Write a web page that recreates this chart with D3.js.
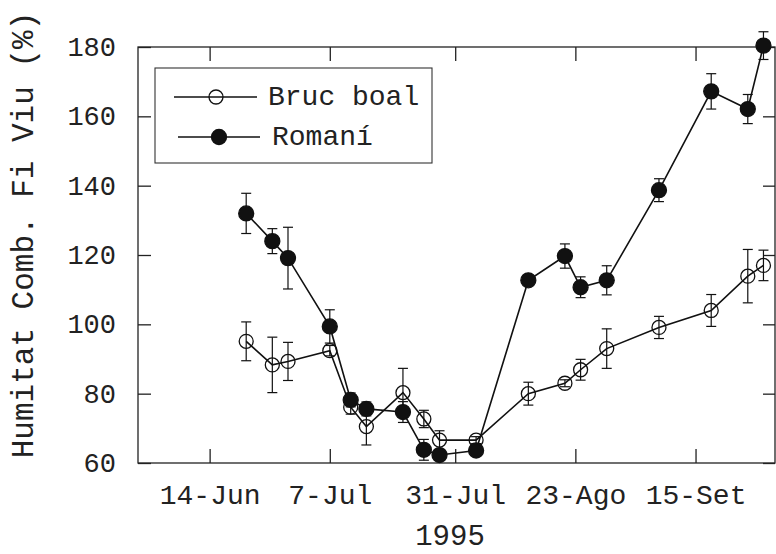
<!DOCTYPE html>
<meta charset="utf-8">
<style>

body {
  margin: 0;
  background: #fff;
}

svg {
  font-family: "Liberation Mono", "DejaVu Sans Mono", monospace;
}

.axis path {
  stroke: none;
}

.axis line {
  stroke: #222;
  stroke-width: 1.3px;
}

.axis text {
  fill: #222;
}

</style>
<svg id="chart" width="776" height="554"></svg>
<script src="https://cdn.jsdelivr.net/npm/d3@7"></script>
<script>

// Sampling dates (1995), shared by both series.
var dates = ["1995-06-21", "1995-06-26", "1995-06-29", "1995-07-07", "1995-07-11", "1995-07-14",
             "1995-07-21", "1995-07-25", "1995-07-28", "1995-08-04", "1995-08-14", "1995-08-21",
             "1995-08-24", "1995-08-29", "1995-09-08", "1995-09-18", "1995-09-25", "1995-09-28"];

// Bruc boal (open circles): mean and error.
var brucValues = [95.1, 88.3, 89.3, 92.4, 76.1, 70.5, 80.3, 72.7, 66.6, 66.6, 80, 83, 86.9, 93, 99.1, 104, 113.9, 117];
var brucErrors = [5.6, 8, 5.5, 1.5, 2, 5.3, 7, 2.5, 2.7, 1, 3.3, 1, 3, 5.7, 3.2, 4.6, 7.7, 4.4];

// Romaní (filled circles): mean and error.
var romaniValues = [132, 124, 119.1, 99.4, 78.2, 75.6, 74.7, 63.8, 62.3, 63.6, 112.7, 119.7, 110.7, 112.7, 138.7, 167.2, 162.1, 180.4];
var romaniErrors = [5.8, 3.6, 8.9, 4.8, 2, 2, 3, 3, 1, 1, 0, 3.5, 3, 4.2, 3.3, 5.1, 4.2, 4];

var xTickDates = ["1995-06-14", "1995-07-07", "1995-07-31", "1995-08-23", "1995-09-15"];
var xTickLabels = ["14-Jun", "7-Jul", "31-Jul", "23-Ago", "15-Set"];
var yTicks = [60, 80, 100, 120, 140, 160, 180];

var parse = d3.utcParse("%Y-%m-%d");

var svg = d3.select("svg"),
    plotLeft = 138, plotRight = 775, plotTop = 47, plotBottom = 463;

var x = d3.scaleUtc()
    .domain([new Date(Date.UTC(1995, 4, 31, 7)), new Date(Date.UTC(1995, 8, 30, 5))])
    .range([plotLeft, plotRight]);

var y = d3.scaleLinear()
    .domain([60, 180])
    .range([plotBottom, plotTop]);

function series(values, errors) {
  return dates.map(function(d, i) {
    return {date: parse(d), value: values[i], err: errors[i]};
  });
}

var bruc = series(brucValues, brucErrors),
    romani = series(romaniValues, romaniErrors);

// frame
svg.append("rect")
    .attr("x", plotLeft)
    .attr("y", plotTop)
    .attr("width", plotRight - plotLeft)
    .attr("height", plotBottom - plotTop)
    .attr("fill", "none")
    .attr("stroke", "#222")
    .attr("stroke-width", 1.3);

var tickDates = xTickDates.map(parse);

svg.append("g")
    .attr("class", "axis")
    .attr("transform", "translate(0," + plotBottom + ")")
    .call(d3.axisBottom(x)
        .tickValues(tickDates)
        .tickFormat(function(d, i) { return xTickLabels[i]; })
        .tickSizeInner(-14)
        .tickSizeOuter(0)
        .tickPadding(21))
    .attr("font-family", null)
    .attr("font-size", 28);

svg.append("g")
    .attr("class", "axis")
    .attr("transform", "translate(0," + plotTop + ")")
    .call(d3.axisTop(x)
        .tickValues(tickDates)
        .tickFormat("")
        .tickSizeInner(-14)
        .tickSizeOuter(0));

svg.append("g")
    .attr("class", "axis")
    .attr("transform", "translate(" + plotLeft + ",0)")
    .call(d3.axisLeft(y)
        .tickValues(yTicks)
        .tickSizeInner(-13)
        .tickSizeOuter(0)
        .tickPadding(22))
    .attr("font-family", null)
    .attr("font-size", 27);

svg.append("g")
    .attr("class", "axis")
    .attr("transform", "translate(" + plotRight + ",0)")
    .call(d3.axisRight(y)
        .tickValues(yTicks)
        .tickFormat("")
        .tickSizeInner(-12)
        .tickSizeOuter(0));

// axis titles
svg.append("text")
    .attr("x", 450)
    .attr("y", 545)
    .attr("text-anchor", "middle")
    .style("font-size", "29px")
    .attr("fill", "#222")
    .text("1995");

svg.append("text")
    .attr("transform", "translate(33,235) rotate(-90)")
    .attr("text-anchor", "middle")
    .style("font-size", "31px")
    .attr("fill", "#222")
    .text("Humitat Comb. Fi Viu (%)");

var line = d3.line()
    .x(function(d) { return x(d.date); })
    .y(function(d) { return y(d.value); });

function drawSeries(data, filled) {
  var g = svg.append("g");

  g.append("path")
      .datum(data)
      .attr("d", line)
      .attr("fill", "none")
      .attr("stroke", "#111")
      .attr("stroke-width", 1.6);

  var bars = g.selectAll(".err")
    .data(data.filter(function(d) { return d.err > 0; }))
    .enter().append("g")
      .attr("stroke", "#111")
      .attr("stroke-width", 1.2);

  bars.append("line")
      .attr("x1", function(d) { return x(d.date); })
      .attr("x2", function(d) { return x(d.date); })
      .attr("y1", function(d) { return y(d.value - d.err); })
      .attr("y2", function(d) { return y(d.value + d.err); });

  bars.append("line")
      .attr("x1", function(d) { return x(d.date) - 5; })
      .attr("x2", function(d) { return x(d.date) + 5; })
      .attr("y1", function(d) { return y(d.value + d.err); })
      .attr("y2", function(d) { return y(d.value + d.err); });

  bars.append("line")
      .attr("x1", function(d) { return x(d.date) - 5; })
      .attr("x2", function(d) { return x(d.date) + 5; })
      .attr("y1", function(d) { return y(d.value - d.err); })
      .attr("y2", function(d) { return y(d.value - d.err); });

  g.selectAll("circle")
    .data(data)
    .enter().append("circle")
      .attr("cx", function(d) { return x(d.date); })
      .attr("cy", function(d) { return y(d.value); })
      .attr("r", filled ? 7.5 : 7)
      .attr("fill", filled ? "#111" : "none")
      .attr("stroke", "#111")
      .attr("stroke-width", 1.3);
}

drawSeries(bruc, false);
drawSeries(romani, true);

// legend
var legend = svg.append("g");

legend.append("rect")
    .attr("x", 155)
    .attr("y", 68)
    .attr("width", 277)
    .attr("height", 95)
    .attr("fill", "#fff")
    .attr("stroke", "#333")
    .attr("stroke-width", 1.1);

var legendItems = [
  {label: "Bruc boal", filled: false, x1: 174, x2: 257, cx: 216, y: 97, tx: 268},
  {label: "Romaní", filled: true, x1: 178, x2: 260, cx: 219, y: 137, tx: 272}
];

legendItems.forEach(function(item) {
  legend.append("line")
      .attr("x1", item.x1)
      .attr("x2", item.x2)
      .attr("y1", item.y)
      .attr("y2", item.y)
      .attr("stroke", "#111")
      .attr("stroke-width", 1.4);

  legend.append("circle")
      .attr("cx", item.cx)
      .attr("cy", item.y)
      .attr("r", item.filled ? 7.5 : 7)
      .attr("fill", item.filled ? "#111" : "none")
      .attr("stroke", "#111")
      .attr("stroke-width", 1.3);

  legend.append("text")
      .attr("x", item.tx)
      .attr("y", item.y + 8)
      .style("font-size", "28px")
      .attr("fill", "#222")
      .text(item.label);
});

</script>
